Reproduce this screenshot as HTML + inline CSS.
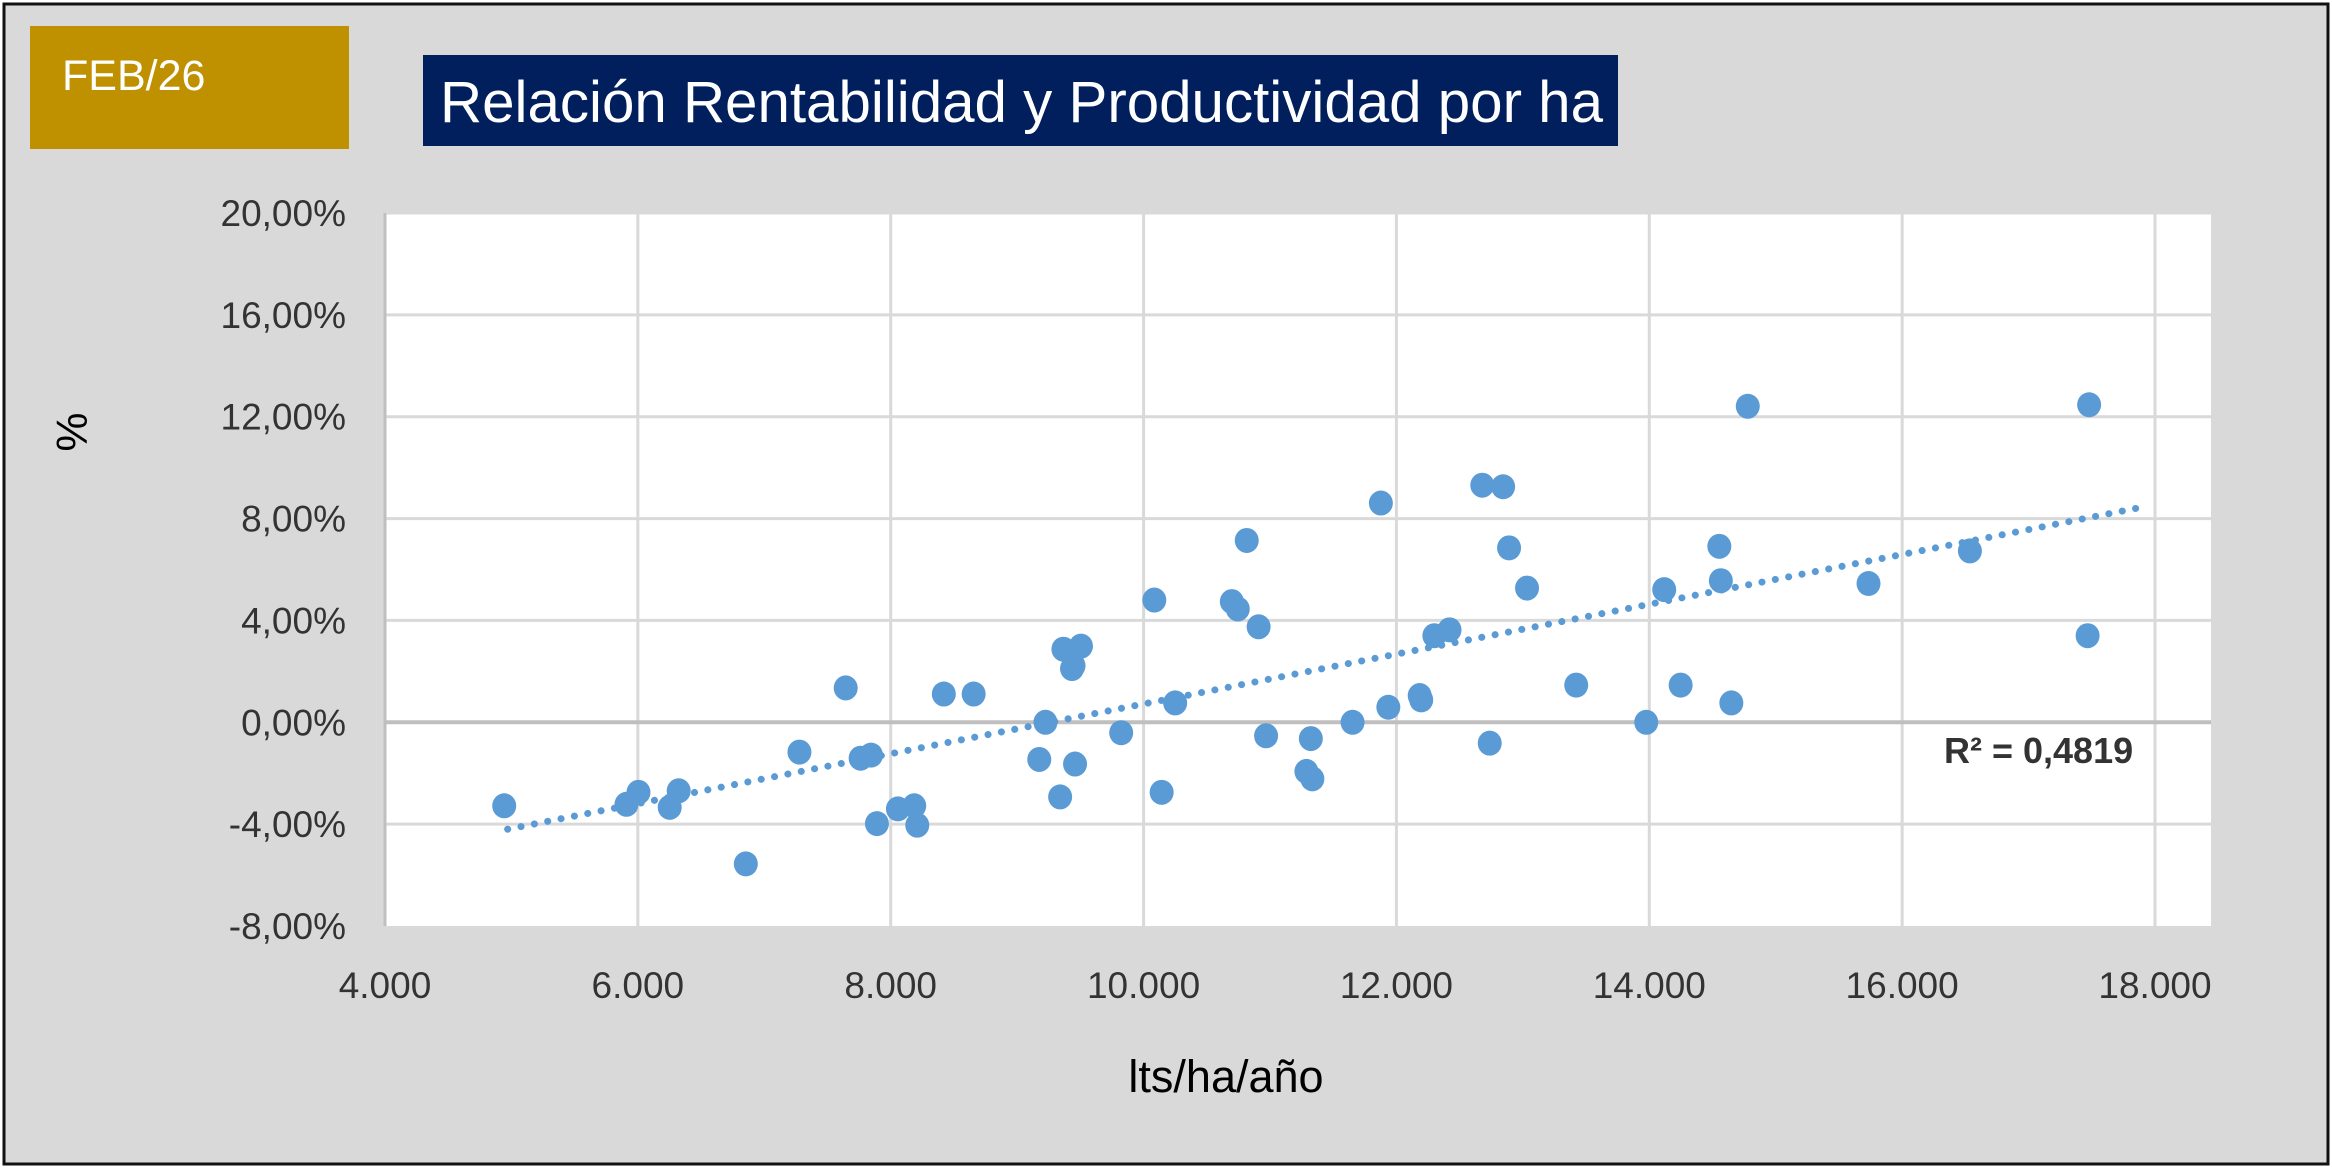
<!DOCTYPE html>
<html><head><meta charset="utf-8"><style>
html,body{margin:0;padding:0;background:#fff}
svg{display:block}
text{font-family:"Liberation Sans Narrow","Liberation Sans",sans-serif}
</style></head><body>
<svg id="chart" width="2332" height="1168" viewBox="0 0 2332 1168" xmlns="http://www.w3.org/2000/svg">
<rect x="4" y="4" width="2324" height="1160" fill="#d9d9d9" stroke="#111" stroke-width="3"/>
<rect x="30" y="26" width="319" height="123" fill="#bf9000"/>
<text x="62" y="90" font-size="43" fill="#fff">FEB/26</text>
<rect x="423" y="55" width="1195" height="91" fill="#001f5c"/>
<text x="440" y="122" font-size="58" fill="#fff" textLength="1163" lengthAdjust="spacingAndGlyphs">Relación Rentabilidad y Productividad por ha</text>
<rect x="385" y="213" width="1826" height="713" fill="#fff"/>
<g id="grid"></g>
<g id="axes"></g>
<g id="trend"></g>
<g id="points"></g>
<text x="75" y="432" font-size="44" fill="#000" text-anchor="middle" transform="rotate(-90 75 432)" dominant-baseline="middle">%</text>
<text x="1226" y="1092" font-size="45" fill="#000" text-anchor="middle">lts/ha/año</text>
<text x="1944" y="763" font-size="36" font-weight="bold" fill="#333">R² = 0,4819</text>
</svg>
<script>
const xTicks=[4000,6000,8000,10000,12000,14000,16000,18000];
const xTickLabels=["4.000","6.000","8.000","10.000","12.000","14.000","16.000","18.000"];
const yTicks=[20,16,12,8,4,0,-4,-8];
const yTickLabels=["20,00%","16,00%","12,00%","8,00%","4,00%","0,00%","-4,00%","-8,00%"];
const xValues=[4943,5910,6005,6252,6323,6854,7278,7644,7762,7844,7891,8057,8186,8210,8420,8656,9175,9224,9340,9366,9434,9446,9458,9505,9823,10085,10143,10250,10698,10745,10816,10910,10969,11288,11323,11335,11653,11877,11936,12184,12196,12300,12420,12679,12738,12844,12891,13033,13422,13976,14118,14248,14554,14566,14649,14779,15734,16536,17479,17467];
const yValues=[-3.28,-3.22,-2.75,-3.34,-2.69,-5.56,-1.17,1.35,-1.41,-1.29,-3.98,-3.40,-3.28,-4.04,1.11,1.11,-1.46,0,-2.93,2.87,2.11,2.22,-1.64,2.99,-0.41,4.80,-2.75,0.76,4.74,4.45,7.14,3.75,-0.53,-1.93,-0.64,-2.22,0,8.61,0.59,1.05,0.88,3.40,3.63,9.31,-0.82,9.25,6.85,5.27,1.46,0,5.21,1.46,6.91,5.56,0.76,12.41,5.45,6.73,12.47,3.40];
const trendX=[4970,17850];
const trendY=[-4.2,8.4];
const NS='http://www.w3.org/2000/svg';
const X=v=>385+(v-4000)/14000*(2155-385);
const Y=v=>213+(20-v)/28*713;
function mk(tag,attrs,parent){const e=document.createElementNS(NS,tag);for(const k in attrs)e.setAttribute(k,attrs[k]);parent.appendChild(e);return e;}
const grid=document.getElementById('grid'),axes=document.getElementById('axes');
xTicks.forEach((t,i)=>{
  if(i>0){const l=mk('line',{x1:X(t),x2:X(t),y1:213,y2:926,stroke:'#d9d9d9','stroke-width':3},grid);
  
  }
  const tx=mk('text',{x:X(t),y:998,'font-size':37,fill:'#333','text-anchor':'middle'},axes);
  tx.textContent=xTickLabels[i];
  
  
});
yTicks.forEach((t,i)=>{
  if(t!==0&&t!==-8){const l=mk('line',{x1:385,x2:2211,y1:Y(t),y2:Y(t),stroke:'#d9d9d9','stroke-width':3},grid);
  
  }
  const tx=mk('text',{x:346,y:Y(t)+13,'font-size':37,fill:'#333','text-anchor':'end'},axes);
  tx.textContent=yTickLabels[i];
  
  
});
const zl=mk('line',{x1:385,x2:2211,y1:Y(0),y2:Y(0),stroke:'#bfbfbf','stroke-width':4},grid);


const yl=mk('line',{x1:385,x2:385,y1:213,y2:926,stroke:'#bfbfbf','stroke-width':3},grid);


const tl=mk('line',{x1:X(trendX[0]),y1:Y(trendY[0]),x2:X(trendX[1]),y2:Y(trendY[1]),stroke:'#5b9bd5','stroke-width':7,'stroke-dasharray':'0.1 13.5','stroke-linecap':'round'},document.getElementById('trend'));


const pts=document.getElementById('points');
xValues.forEach((x,i)=>{
  const c=mk('ellipse',{cx:X(x),cy:Y(yValues[i]),rx:12,ry:12.5,fill:'#5b9bd5'},pts);
  
  
});
</script>
</body></html>
